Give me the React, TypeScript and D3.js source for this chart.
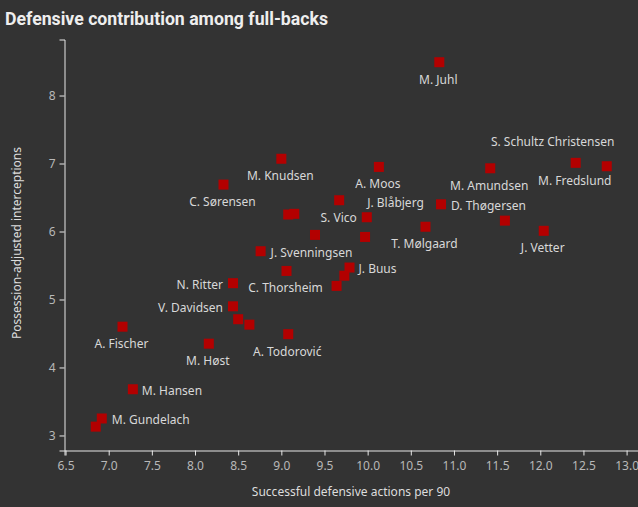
import React, { useEffect, useRef } from "react";
import * as d3 from "d3";

const players = [
  "M. Juhl", "S. Schultz Christensen", "M. Fredslund", "M. Amundsen", "D. Thøgersen",
  "J. Vetter", "", "T. Mølgaard", "A. Moos", "J. Blåbjerg", "S. Vico", "", "",
  "J. Svenningsen", "", "", "M. Knudsen", "C. Sørensen", "C. Thorsheim", "J. Buus",
  "", "", "N. Ritter", "V. Davidsen", "", "", "A. Todorović", "M. Høst", "A. Fischer",
  "M. Hansen", "M. Gundelach", "",
];
const defActions = [
  10.83, 12.41, 12.77, 11.42, 10.85, 12.04, 11.59, 10.67, 10.13, 9.67, 9.99, 9.97, 9.39,
  8.76, 9.08, 9.15, 9.0, 8.33, 9.06, 9.79, 9.73, 9.64, 8.44, 8.44, 8.5, 8.63, 9.08, 8.16,
  7.16, 7.28, 6.92, 6.85,
];
const interceptions = [
  8.49, 7.01, 6.96, 6.93, 6.4, 6.01, 6.16, 6.07, 6.95, 6.46, 6.21, 5.92, 5.95, 5.71,
  6.25, 6.26, 7.07, 6.69, 5.42, 5.47, 5.35, 5.2, 5.24, 4.9, 4.71, 4.63, 4.49, 4.35, 4.6,
  3.68, 3.25, 3.13,
];
const xTicks = [6.5, 7, 7.5, 8, 8.5, 9, 9.5, 10, 10.5, 11, 11.5, 12, 12.5, 13];
const yTicks = [3, 4, 5, 6, 7, 8];

// label placement (style): [dx, dy, anchor]
const labelPlacement: Record<string, [number, number, string]> = {
  "S. Schultz Christensen": [-23, -21, "middle"],
  "M. Fredslund": [-32, 14, "middle"],
  "D. Thøgersen": [10, 1, "start"],
  "J. Blåbjerg": [28, 2, "start"],
  "S. Vico": [-10, 0, "end"],
  "J. Svenningsen": [10, 1, "start"],
  "J. Buus": [9, 1, "start"],
  "N. Ritter": [-10, 1, "end"],
  "V. Davidsen": [-10, 1, "end"],
  "M. Hansen": [9, 1, "start"],
  "M. Gundelach": [10, 1, "start"],
};

const W = 638;
const H = 507;
const FONT = "'Noto Sans', sans-serif";

export default function App() {
  const ref = useRef<SVGSVGElement>(null);

  useEffect(() => {
    const svg = d3.select(ref.current);
    svg.selectAll("*").remove();

    svg.append("rect").attr("width", W).attr("height", H).attr("fill", "#333333");

    const x = d3.scaleLinear().domain([6.488, 13.132]).range([64.5, 638]);
    const y = d3.scaleLinear().domain([2.779, 8.824]).range([450.5, 39.5]);

    svg
      .append("text")
      .attr("x", 5)
      .attr("y", 25)
      .attr("font-family", "Roboto, sans-serif")
      .attr("font-weight", 700)
      .attr("font-size", 18)
      .attr("fill", "#eeeeee")
      .attr("textLength", 323)
      .attr("lengthAdjust", "spacingAndGlyphs")
      .text("Defensive contribution among full-backs");

    const xAxis = svg
      .append("g")
      .attr("transform", "translate(0,450.5)")
      .call(
        d3
          .axisBottom(x)
          .tickValues(xTicks)
          .tickFormat(d3.format(".1f"))
          .tickSizeOuter(0)
          .tickSize(5)
          .tickPadding(6)
      );
    xAxis.select(".domain").attr("stroke", "#e8e8e8");
    xAxis.selectAll(".tick line").attr("stroke", "#e8e8e8");
    xAxis
      .selectAll(".tick text")
      .attr("fill", "#b8b8b8")
      .attr("font-family", FONT)
      .attr("font-size", 12);

    const yAxis = svg
      .append("g")
      .attr("transform", "translate(64.5,0)")
      .call(
        d3
          .axisLeft(y)
          .tickValues(yTicks)
          .tickFormat(d3.format("d"))
          .tickSizeOuter(0)
          .tickSize(5)
          .tickPadding(4)
      );
    yAxis.select(".domain").attr("stroke", "#e8e8e8");
    yAxis.selectAll(".tick line").attr("stroke", "#e8e8e8");
    yAxis
      .selectAll(".tick text")
      .attr("fill", "#b8b8b8")
      .attr("font-family", FONT)
      .attr("font-size", 12);

    svg
      .append("text")
      .attr("x", 351)
      .attr("y", 496)
      .attr("text-anchor", "middle")
      .attr("font-family", FONT)
      .attr("font-size", 12)
      .attr("fill", "#dddddd")
      .text("Successful defensive actions per 90");

    svg
      .append("text")
      .attr("transform", "translate(21,243) rotate(-90)")
      .attr("text-anchor", "middle")
      .attr("font-family", FONT)
      .attr("font-size", 12)
      .attr("fill", "#dddddd")
      .text("Possession-adjusted interceptions");

    const data = players.map((name, i) => ({
      name,
      x: defActions[i],
      y: interceptions[i],
    }));

    const S = 10;
    svg
      .append("g")
      .selectAll("rect")
      .data(data)
      .join("rect")
      .attr("x", (d) => x(d.x) - S / 2)
      .attr("y", (d) => y(d.y) - S / 2)
      .attr("width", S)
      .attr("height", S)
      .attr("fill", "#b30000");

    svg
      .append("g")
      .selectAll("text")
      .data(data.filter((d) => d.name !== ""))
      .join("text")
      .attr("x", (d) => x(d.x) + (labelPlacement[d.name]?.[0] ?? -1))
      .attr("y", (d) => y(d.y) + (labelPlacement[d.name]?.[1] ?? 17) + 4.5)
      .attr("text-anchor", (d) => labelPlacement[d.name]?.[2] ?? "middle")
      .attr("font-family", FONT)
      .attr("font-size", 12)
      .attr("fill", "#d8d8d8")
      .text((d) => d.name);
  }, []);

  return (
    <svg
      ref={ref}
      width={W}
      height={H}
      style={{ position: "absolute", left: 0, top: 0, display: "block" }}
    />
  );
}
